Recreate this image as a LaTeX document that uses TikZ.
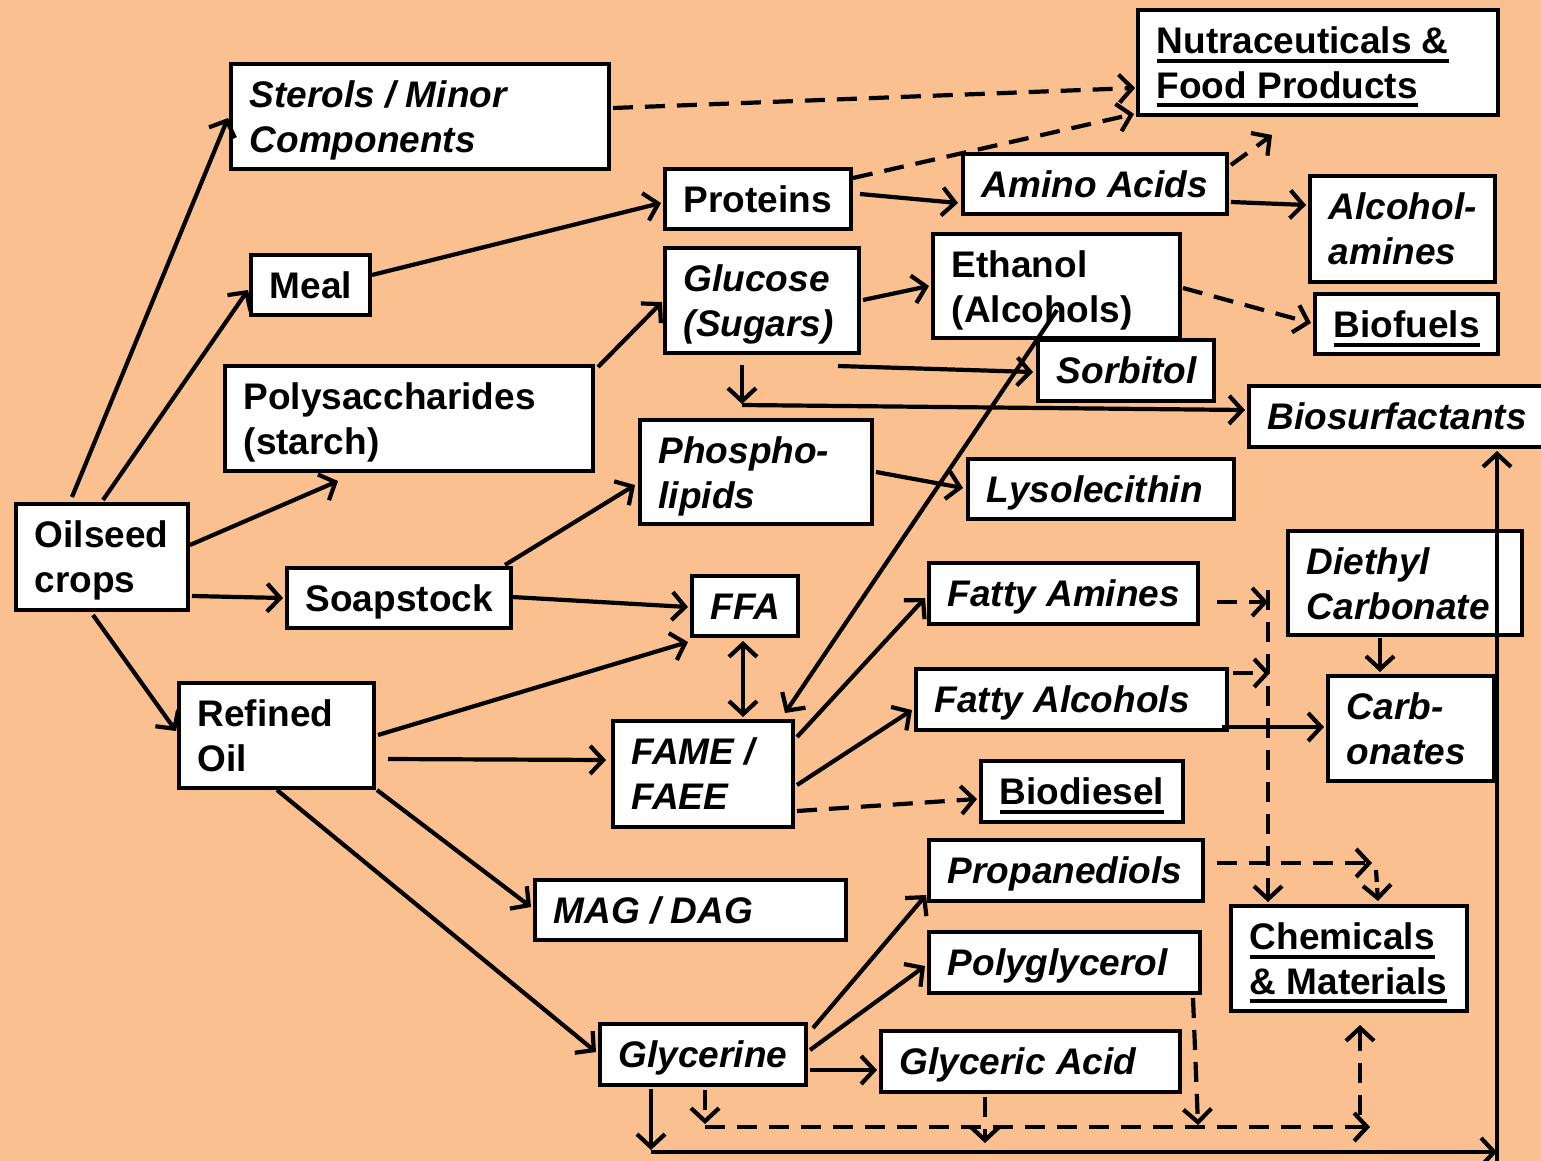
\documentclass[tikz,border=0pt]{standalone}
\usepackage{fontspec}
\setmainfont{Liberation Sans}
\usetikzlibrary{arrows.meta,calc}
\definecolor{bg}{RGB}{250,192,144}
\newcommand\myul[1]{\leavevmode\setbox0=\hbox{#1}\rlap{\rule[-9pt]{\wd0}{4pt}}\box0}
\newcommand\bx[7]{%
  \pgfmathsetmacro\bw{#5-#3-4}\pgfmathsetmacro\bh{#6-#4-4}%
  \pgfmathsetmacro\cx{(#3+#5)/2}\pgfmathsetmacro\cy{(#4+#6)/2}%
  \node[frame,minimum width=\bw pt,minimum height=\bh pt] (#2) at (\cx,\cy) {};
  \node[#1,anchor=north west] (#2-t) at ($(#2.north west)+(20.5,15.5)$) {\rule{0pt}{30pt}#7};}
\begin{document}
\begin{tikzpicture}[x=1pt,y=-1pt,
  frame/.style={draw,line width=4pt,fill=white,inner sep=0pt},
  box/.style={align=left,inner sep=0pt,
    font=\fontsize{37}{44.5}\selectfont\bfseries},
  ibox/.style={box,font=\fontsize{37}{44.5}\selectfont\bfseries\itshape},
  conn/.style={line width=4.2pt,-{Straight Barb[length=13pt,width=28pt]}},
  dconn/.style={conn,dash pattern=on 20pt off 12pt}]
\useasboundingbox (0,0) rectangle (1541,1161);
\clip (0,0) rectangle (1541,1161);
\fill[bg] (0,0) rectangle (1541,1161);

\bx{ibox}{ster}{229}{62}{611}{171}{Sterols / Minor\\Components}
\bx{box}{nutra}{1136}{8}{1500}{117}{\myul{Nutraceuticals \&}\\\myul{Food Products}}
\bx{box}{meal}{249}{253}{372}{317}{Meal}
\bx{box}{prot}{663}{167}{853}{231}{Proteins}
\bx{ibox}{amino}{961}{152}{1229}{216}{Amino Acids}
\bx{ibox}{alcam}{1308}{174}{1497}{284}{Alcohol-\\amines}
\bx{ibox}{gluc}{663}{246}{861}{355}{Glucose\\(Sugars)}
\bx{box}{ethan}{931}{232}{1182}{340}{Ethanol\\(Alcohols)}
\bx{box}{biof}{1313}{292}{1500}{356}{\myul{Biofuels}}
\bx{ibox}{sorb}{1036}{338}{1216}{403}{Sorbitol}
\bx{ibox}{biosurf}{1247}{384}{1560}{449}{Biosurfactants}
\bx{box}{polys}{223}{364}{595}{473}{Polysaccharides\\(starch)}
\bx{ibox}{phos}{638}{418}{874}{526}{Phospho-\\lipids}
\bx{ibox}{lyso}{966}{457}{1236}{521}{Lysolecithin}
\bx{box}{oil}{14}{502}{190}{612}{Oilseed\\crops}
\bx{box}{soap}{285}{566}{513}{630}{Soapstock}
\bx{ibox}{ffa}{690}{574}{800}{638}{FFA}
\bx{ibox}{famin}{927}{561}{1200}{626}{Fatty Amines}
\bx{ibox}{dieth}{1286}{529}{1524}{637}{Diethyl\\Carbonate}
\bx{ibox}{falc}{914}{667}{1229}{732}{Fatty Alcohols}
\bx{ibox}{carb}{1326}{674}{1496}{783}{Carb-\\onates}
\bx{box}{refo}{177}{681}{376}{790}{Refined\\Oil}
\bx{ibox}{fame}{611}{719}{795}{829}{FAME /\\FAEE}
\bx{box}{biod}{979}{759}{1185}{824}{\myul{Biodiesel}}
\bx{ibox}{prop}{927}{838}{1205}{903}{Propanediols}
\bx{ibox}{mag}{533}{878}{848}{942}{MAG / DAG}
\bx{box}{chem}{1229}{904}{1469}{1013}{\myul{Chemicals}\\\myul{\& Materials}}
\bx{ibox}{polyg}{927}{930}{1202}{995}{Polyglycerol}
\bx{ibox}{glyc}{598}{1022}{808}{1087}{Glycerine}
\bx{ibox}{glya}{879}{1029}{1182}{1094}{Glyceric Acid}

% free coordinates
\coordinate (aaend) at (1272,135);
\coordinate (gdown) at (742,405);
\coordinate (vtop) at (1268,590);
\coordinate (pend) at (1372,863);
\coordinate (bl) at (651,1152);
\coordinate (br) at (1497,1152);
\coordinate (rb) at (1497,1165);
\coordinate (dl) at (705,1127);
\coordinate (dr) at (1370,1127);

% solid connectors
\draw[conn] ($(oil.center)+(-30,-60)$) -- ($(ster.center)+(-192,1.5)$);
\draw[conn] ($(oil.center)+(1,-57)$) -- ($(meal.center)+(-62.5,5)$);
\draw[conn] ($(oil.center)+(88,-12)$) -- ($(polys.center)+(-71,62.5)$);
\draw[conn] ($(oil.center)+(90,39)$) -- ($(soap.center)+(-116,0)$);
\draw[conn] ($(oil.center)+(-9,58)$) -- ($(refo.center)+(-100.5,-4.5)$);
\draw[conn] ($(meal.center)+(61.5,-10)$) -- ($(prot.center)+(-97,4)$);
\draw[conn] ($(prot.center)+(102,-5)$) -- ($(amino.center)+(-137,19)$);
\draw[conn] ($(amino.center)+(136,18)$) -- ($(alcam.center)+(-96.5,-24)$);
\draw[conn] ($(polys.center)+(189,-51.5)$) -- ($(gluc.center)+(-100,1.5)$);
\draw[conn] ($(gluc.center)+(101,-0.5)$) -- ($(ethan.center)+(-127.5,0)$);
\draw[conn] ($(gluc.center)+(76,65.5)$) -- ($(sorb.center)+(-93,1.5)$);
\draw[conn] ($(gluc.center)+(-20,64.5)$) -- ($(gdown)+(0,-1)$);
\draw[conn] (gdown) -- ($(biosurf.center)+(-158.5,-6.5)$);
\draw[conn] ($(ethan.center)+(0.5,24)$) -- ($(fame.center)+(82,-61)$);
\draw[conn] ($(phos.center)+(120,0)$) -- ($(lyso.center)+(-138,-1)$);
\draw[conn] ($(soap.center)+(106,-33)$) -- ($(phos.center)+(-121,13)$);
\draw[conn] ($(soap.center)+(113,-1)$) -- ($(ffa.center)+(-57,1)$);
\draw[conn] ($(refo.center)+(101.5,-0.5)$) -- ($(ffa.center)+(-57,36)$);
\draw[conn,{Straight Barb[length=13pt,width=28pt]}-{Straight Barb[length=13pt,width=28pt]}] ($(ffa.center)+(-2,35)$) -- ($(fame.center)+(40,-57)$);
\draw[conn] ($(refo.center)+(111.5,23.5)$) -- ($(fame.center)+(-97,-14)$);
\draw[conn] ($(fame.center)+(94,-37)$) -- ($(famin.center)+(-138.5,4.5)$);
\draw[conn] ($(fame.center)+(94,11)$) -- ($(falc.center)+(-159.5,10.5)$);
\draw[conn] ($(refo.center)+(100.5,54.5)$) -- ($(mag.center)+(-159.5,-3)$);
\draw[conn] ($(refo.center)+(0.5,54.5)$) -- ($(glyc.center)+(-107,-2.5)$);
\draw[conn] ($(glyc.center)+(110,-26.5)$) -- ($(prop.center)+(-140,24.5)$);
\draw[conn] ($(glyc.center)+(107,-4.5)$) -- ($(polyg.center)+(-139.5,3.5)$);
\draw[conn] ($(glyc.center)+(107,15.5)$) -- ($(glya.center)+(-153.5,8.5)$);
\draw[conn] ($(dieth.center)+(-25,55)$) -- ($(carb.center)+(-31,-56.5)$);
\draw[conn] ($(falc.center)+(150.5,27.5)$) -- ($(carb.center)+(-87,-1.5)$);
\draw[conn] ($(glyc.center)+(-52,34.5)$) -- ($(bl)+(0,-2)$);
\draw[conn] (bl) -- (br);
\draw[conn] (rb) -- ($(biosurf.center)+(93.5,34.5)$);

% dashed connectors
\draw[dconn] ($(ster.center)+(193,-8.5)$) -- ($(nutra.center)+(-183,25.5)$);
\draw[dconn] ($(prot.center)+(95,-21)$) -- ($(nutra.center)+(-184,51.5)$);
\draw[dconn] ($(amino.center)+(136,-19)$) -- (aaend);
\draw[dconn] ($(ethan.center)+(126.5,2)$) -- ($(biof.center)+(-95.5,-1)$);
\draw[dconn] ($(fame.center)+(94,37)$) -- ($(biod.center)+(-105,7.5)$);
\draw[dconn] ($(famin.center)+(153.5,8.5)$) -- ($(vtop)+(0,12)$);
\draw[dconn] ($(falc.center)+(161.5,-26.5)$) -- ($(vtop)+(2,83)$);
\draw[dconn] (vtop) -- ($(chem.center)+(-81,-56.5)$);
\draw[dconn] ($(prop.center)+(151,-7.5)$) -- (pend);
\draw[dconn,dash pattern=on 12pt off 6pt] ($(pend)+(4,7)$) -- ($(chem.center)+(29,-57.5)$);
\draw[dconn] ($(glyc.center)+(2,35.5)$) -- ($(dl)+(0,-3)$);
\draw[dconn] (dl) -- (dr);
\draw[dconn] ($(glya.center)+(-45.5,35.5)$) -- ($(dl)+(280,16)$);
\draw[dconn] ($(polyg.center)+(128.5,35.5)$) -- ($(dl)+(493,-2)$);
\draw[dconn] ($(dr)+(-10,-12)$) -- ($(chem.center)+(11,66.5)$);
\end{tikzpicture}
\end{document}
